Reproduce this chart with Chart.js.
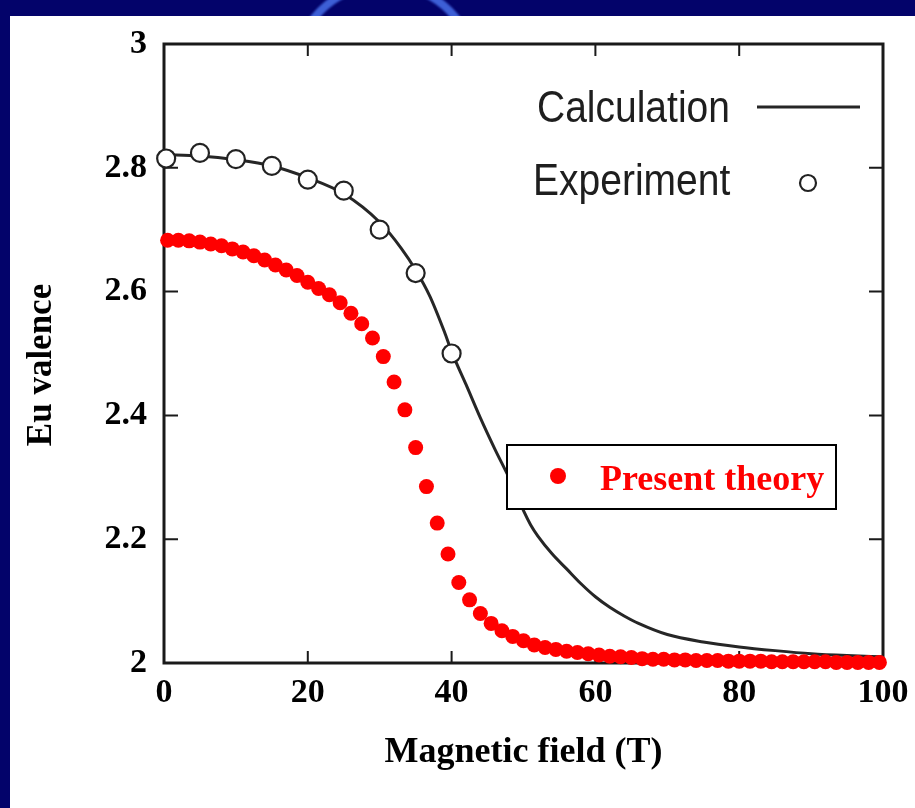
<!DOCTYPE html>
<html>
<head>
<meta charset="utf-8">
<script src="https://cdn.jsdelivr.net/npm/chart.js@4/dist/chart.umd.min.js"></script>
<style>
  html, body { margin: 0; padding: 0; width: 915px; height: 808px; overflow: hidden; background: #03036a; }
  #ring { position: absolute; left: 290px; top: -20px; width: 190px; height: 190px; border-radius: 50%;
          border: 8px solid #3d5fd6; box-sizing: border-box; filter: blur(1px); }
  #panel { position: absolute; left: 10px; top: 16px; width: 905px; height: 792px; background: #ffffff; }
  #chart { position: absolute; left: 0; top: 0; }
</style>
</head>
<body>
<div id="ring"></div>
<div id="panel"></div>
<canvas id="chart" width="915" height="808"></canvas>
<script>
// Axis ticks
const fieldTicks = [0, 20, 40, 60, 80, 100];
const valenceTicks = [2, 2.2, 2.4, 2.6, 2.8, 3];

// Calculation (solid curve)
const calcField = [0, 5, 10, 15, 20, 25, 30, 33, 35, 37, 39, 40, 42, 44, 46, 48, 49, 50, 51, 52, 54, 56, 58,
                   60, 62, 64, 66, 70, 75, 80, 85, 90, 95, 100];
const calcValence = [2.821, 2.819, 2.813, 2.803, 2.784, 2.758, 2.712, 2.670, 2.635, 2.592, 2.535, 2.503,
                     2.450, 2.396, 2.346, 2.299, 2.273, 2.246, 2.223, 2.205, 2.176, 2.152, 2.128, 2.107,
                     2.090, 2.076, 2.064, 2.046, 2.034, 2.026, 2.020, 2.015, 2.012, 2.010];

// Experiment (open circles)
const expField = [0.3, 5, 10, 15, 20, 25, 30, 35, 40];
const expValence = [2.815, 2.824, 2.814, 2.803, 2.781, 2.763, 2.700, 2.630, 2.500];

// Present theory (red dots)
const theoryField = [0.5, 2, 3.5, 5, 6.5, 8, 9.5, 11, 12.5, 14, 15.5, 17, 18.5, 20, 21.5, 23, 24.5, 26,
                     27.5, 29, 30.5, 32, 33.5, 35, 36.5, 38, 39.5, 41, 42.5, 44, 45.5, 47, 48.5, 50,
                     51.5, 53, 54.5, 56, 57.5, 59, 60.5, 62, 63.5, 65, 66.5, 68, 69.5, 71, 72.5, 74,
                     75.5, 77, 78.5, 80, 81.5, 83, 84.5, 86, 87.5, 89, 90.5, 92, 93.5, 95, 96.5, 98, 99.5];
const theoryValence = [2.683, 2.683, 2.682, 2.680, 2.677, 2.674, 2.669, 2.664, 2.658, 2.651, 2.643, 2.635,
                       2.626, 2.615, 2.605, 2.595, 2.582, 2.565, 2.548, 2.525, 2.495, 2.454, 2.409, 2.348,
                       2.285, 2.226, 2.176, 2.130, 2.102, 2.080, 2.064, 2.052, 2.043, 2.036, 2.029, 2.025,
                       2.022, 2.019, 2.017, 2.015, 2.013, 2.011, 2.010, 2.009, 2.007, 2.006, 2.006, 2.005,
                       2.005, 2.004, 2.004, 2.004, 2.003, 2.003, 2.003, 2.003, 2.002, 2.002, 2.002, 2.002,
                       2.002, 2.002, 2.001, 2.001, 2.001, 2.001, 2.001];

const pairs = (xs, ys) => xs.map((x, i) => ({ x, y: ys[i] }));

const SERIF = '"Liberation Serif", "Times New Roman", serif';
const SANS = '"Liberation Sans", Arial, sans-serif';

// Boxed frame with inward tick marks on all four sides
const framePlugin = {
  id: 'frame',
  beforeDatasetsDraw(chart) {
    const { ctx, chartArea: { left, right, top, bottom }, scales: { x, y } } = chart;
    ctx.save();
    ctx.strokeStyle = '#1a1a1a';
    ctx.lineWidth = 3;
    ctx.strokeRect(left, top, right - left, bottom - top);
    ctx.lineWidth = 2;
    ctx.beginPath();
    x.ticks.forEach(t => {
      if (t.value <= x.min || t.value >= x.max) return;
      const px = x.getPixelForValue(t.value);
      ctx.moveTo(px, bottom); ctx.lineTo(px, bottom - 12);
      ctx.moveTo(px, top); ctx.lineTo(px, top + 12);
    });
    y.ticks.forEach(t => {
      if (t.value <= y.min || t.value >= y.max) return;
      const py = y.getPixelForValue(t.value);
      ctx.moveTo(left, py); ctx.lineTo(left + 14, py);
      ctx.moveTo(right, py); ctx.lineTo(right - 14, py);
    });
    ctx.stroke();
    ctx.restore();
  }
};

// Rotated y-axis title, centred a little below the middle of the plot
const yTitlePlugin = {
  id: 'yTitle',
  afterDraw(chart) {
    const { ctx } = chart;
    ctx.save();
    ctx.translate(42, 365);
    ctx.rotate(-Math.PI / 2);
    ctx.fillStyle = '#000000';
    ctx.font = 'bold 35px ' + SERIF;
    ctx.textAlign = 'center';
    ctx.textBaseline = 'middle';
    ctx.fillText('Eu valence', 0, 0);
    ctx.restore();
  }
};

// Legends drawn inside the plot
const legendPlugin = {
  id: 'insideLegend',
  afterDatasetsDraw(chart) {
    const { ctx } = chart;
    const [calc, exp, theory] = chart.data.datasets;
    ctx.save();

    // Calculation / Experiment entries
    ctx.fillStyle = '#1e1e1e';
    ctx.font = '39px ' + SANS;
    ctx.textAlign = 'left';
    ctx.textBaseline = 'alphabetic';
    const tallText = (txt, x, base) => {
      ctx.save(); ctx.translate(x, base); ctx.scale(1, 1.12); ctx.fillText(txt, 0, 0); ctx.restore();
    };
    tallText(calc.label, 537, 122);
    tallText(exp.label, 533, 195);

    ctx.strokeStyle = calc.borderColor;
    ctx.lineWidth = calc.borderWidth;
    ctx.beginPath(); ctx.moveTo(757, 107); ctx.lineTo(860, 107); ctx.stroke();

    ctx.strokeStyle = exp.pointBorderColor;
    ctx.lineWidth = exp.pointBorderWidth;
    ctx.fillStyle = exp.pointBackgroundColor;
    ctx.beginPath(); ctx.arc(808, 183, 8, 0, Math.PI * 2); ctx.fill(); ctx.stroke();

    // Present theory box
    ctx.fillStyle = '#ffffff';
    ctx.fillRect(507, 445, 329, 64);
    ctx.strokeStyle = '#000000';
    ctx.lineWidth = 2;
    ctx.strokeRect(507, 445, 329, 64);
    ctx.fillStyle = theory.pointBackgroundColor;
    ctx.beginPath(); ctx.arc(558, 476, 8, 0, Math.PI * 2); ctx.fill();
    ctx.font = 'bold 36px ' + SERIF;
    ctx.fillText(theory.label, 600, 490);

    ctx.restore();
  }
};

new Chart(document.getElementById('chart'), {
  type: 'scatter',
  data: {
    datasets: [
      {
        label: 'Calculation',
        type: 'line',
        data: pairs(calcField, calcValence),
        borderColor: '#262626',
        borderWidth: 3,
        pointRadius: 0,
        fill: false,
        cubicInterpolationMode: 'monotone',
        clip: false,
        order: 3
      },
      {
        label: 'Experiment',
        data: pairs(expField, expValence),
        borderColor: '#222222',
        pointBorderColor: '#222222',
        pointBackgroundColor: '#ffffff',
        pointBorderWidth: 2.2,
        pointRadius: 9,
        showLine: false,
        clip: false,
        order: 2
      },
      {
        label: 'Present theory',
        data: pairs(theoryField, theoryValence),
        pointBackgroundColor: '#ff0000',
        pointBorderColor: '#ff0000',
        pointBorderWidth: 0,
        pointRadius: 7.5,
        showLine: false,
        clip: false,
        order: 1
      }
    ]
  },
  options: {
    responsive: false,
    animation: false,
    events: [],
    layout: { padding: { left: 0, top: 44, right: 32, bottom: 0 } },
    plugins: { legend: { display: false }, tooltip: { enabled: false } },
    scales: {
      x: {
        type: 'linear',
        min: 0,
        max: 100,
        afterFit: s => { s.height = 145; s.paddingLeft = 0; s.paddingRight = 0; },
        afterBuildTicks: s => { s.ticks = fieldTicks.map(v => ({ value: v })); },
        grid: { display: false, drawTicks: false },
        border: { display: false },
        ticks: {
          color: '#000000',
          padding: 13,
          maxRotation: 0,
          font: { family: SERIF, size: 34, weight: 'bold', lineHeight: 1 },
          callback: v => String(v)
        },
        title: {
          display: true,
          text: 'Magnetic field (T)',
          color: '#000000',
          font: { family: SERIF, size: 36, weight: 'bold', lineHeight: 1 },
          padding: { top: 0, bottom: 37 }
        }
      },
      y: {
        type: 'linear',
        min: 2,
        max: 3,
        afterFit: s => { s.width = 164; s.paddingTop = 0; s.paddingBottom = 0; },
        afterBuildTicks: s => { s.ticks = valenceTicks.map(v => ({ value: v })); },
        grid: { display: false, drawTicks: false },
        border: { display: false },
        ticks: {
          color: '#000000',
          padding: 17,
          font: { family: SERIF, size: 34, weight: 'bold', lineHeight: 1 },
          callback: v => String(Math.round(v * 10) / 10)
        }
      }
    }
  },
  plugins: [framePlugin, legendPlugin, yTitlePlugin]
});
</script>
</body>
</html>
